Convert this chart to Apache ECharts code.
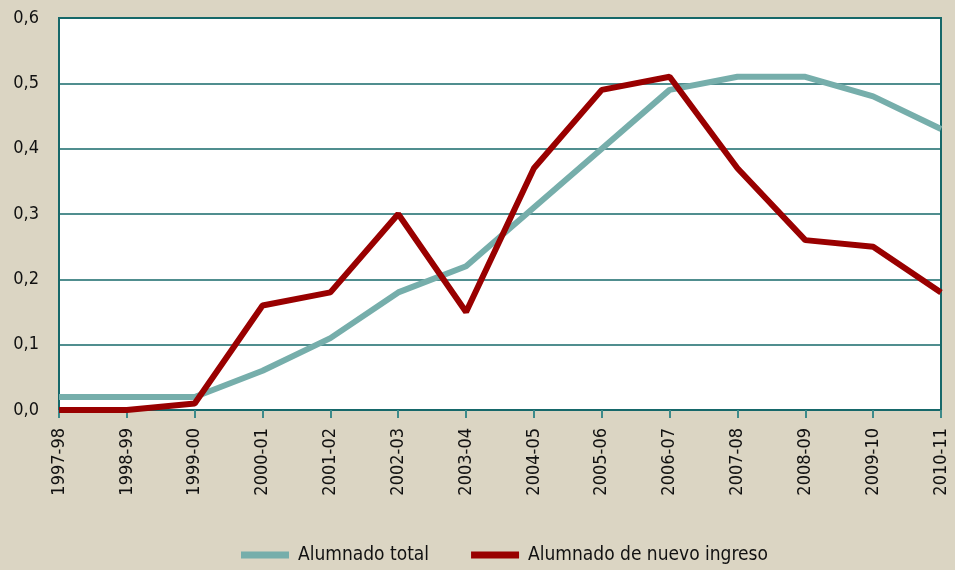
<!DOCTYPE html>
<html><head><meta charset="utf-8">
<script src="https://cdn.jsdelivr.net/npm/echarts@6/dist/echarts.min.js"></script>
<style>html,body{margin:0;padding:0;background:#dbd5c3;}#c{width:955px;height:570px;}</style>
</head><body><div id="c"></div>
<script>
const categories = ['1997-98','1998-99','1999-00','2000-01','2001-02','2002-03','2003-04','2004-05','2005-06','2006-07','2007-08','2008-09','2009-10','2010-11'];
const totalValues = [0.02,0.02,0.02,0.06,0.11,0.18,0.22,0.31,0.40,0.49,0.51,0.51,0.48,0.43];
const newValues = [0,0,0.01,0.16,0.18,0.30,0.15,0.37,0.49,0.51,0.37,0.26,0.25,0.18];
const yTicks = [0,0.1,0.2,0.3,0.4,0.5,0.6];

const chart = echarts.init(document.getElementById('c'));
const font = '"DejaVu Sans Condensed", "Liberation Sans", sans-serif';
chart.setOption({
  backgroundColor: '#dbd5c3',
  animation: false,
  grid: {left: 59, right: 14, top: 18, bottom: 160, show: true, backgroundColor: '#ffffff', borderColor: '#16686a', borderWidth: 2},
  legend: {
    top: 545, left: 241, itemWidth: 48, itemHeight: 7, itemGap: 42, padding: 0,
    textStyle: {fontFamily: font, fontSize: 19, lineHeight: 20, color: '#111', padding: [0,0,0,4]},
    data: [{name: 'Alumnado total', icon: 'rect'}, {name: 'Alumnado de nuevo ingreso', icon: 'rect'}]
  },
  xAxis: {
    type: 'category', data: categories, boundaryGap: false,
    axisLine: {lineStyle: {color: '#16686a', width: 2}},
    axisTick: {show: true, length: 8, lineStyle: {color: '#3c8a8a', width: 2}},
    axisLabel: {rotate: 90, fontFamily: font, fontSize: 18, color: '#111', margin: 18}
  },
  yAxis: {
    type: 'value', min: 0, max: 0.6, interval: 0.1,
    axisLine: {show: true, lineStyle: {color: '#16686a', width: 2}},
    axisTick: {show: false},
    splitLine: {lineStyle: {color: '#16686a', width: 1.5}},
    axisLabel: {fontFamily: font, fontSize: 18, color: '#111', margin: 20,
      formatter: v => yTicks.includes(Math.round(v*10)/10) ? v.toFixed(1).replace('.', ',') : ''}
  },
  series: [
    {name: 'Alumnado total', type: 'line', data: totalValues, symbol: 'none', color: '#76aeab', lineStyle: {width: 6, color: '#76aeab'}},
    {name: 'Alumnado de nuevo ingreso', type: 'line', data: newValues, symbol: 'none', color: '#990000', lineStyle: {width: 6, color: '#990000'}}
  ]
});
</script></body></html>
